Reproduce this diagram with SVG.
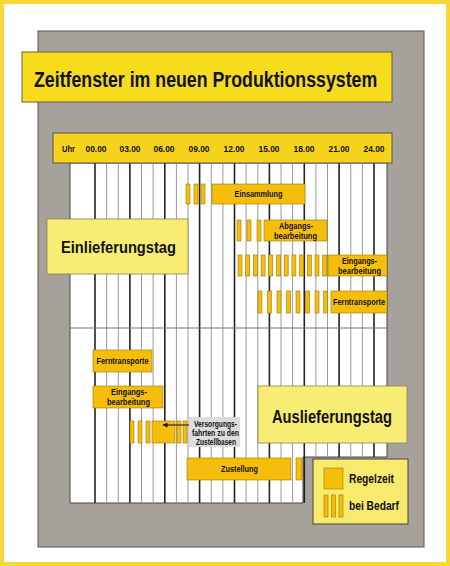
<svg xmlns="http://www.w3.org/2000/svg" width="450" height="566" viewBox="0 0 450 566">
<defs>
<style>
.b{font-family:"Liberation Sans",Arial,sans-serif;font-weight:bold;fill:#111}
.reg{fill:#f5be0c;stroke:#9c7a00;stroke-width:0.6}
.bar{fill:#f5be0c;stroke:#9c7a00;stroke-width:0.6}
.hl{stroke:#999;stroke-width:1}
.hk{stroke:#222;stroke-width:1.6}
.lt{fill:#f8ed74;stroke:#8a8050;stroke-width:0.8}
.s9{font-size:9px}
</style>
<marker id="ah" viewBox="0 0 10 10" refX="9" refY="5" markerWidth="6" markerHeight="5" orient="auto-start-reverse"><path d="M0,0L10,5L0,10z" fill="#111"/></marker>
</defs>
<rect x="2" y="2" width="446" height="562" fill="#fff" stroke="#f8d838" stroke-width="4"/>
<rect x="38" y="31" width="386" height="516" fill="#a7a19c" stroke="#555" stroke-width="1"/>

<g id="title">
<rect x="22" y="52" width="370" height="50" fill="#f7dc1e" stroke="#6a6030" stroke-width="1"/>
<text class="b" transform="translate(34,87) scale(0.807,1)" x="0" y="0" font-size="22">Zeitfenster im neuen Produktionssystem</text>
</g>

<g id="grid">
<path d="M70,163H387V457H303V503H70Z" fill="#fff" stroke="#444" stroke-width="1"/>
<g id="gridlines">
<line class="hl" x1="106.6" y1="163" x2="106.6" y2="503"/>
<line class="hl" x1="118.3" y1="163" x2="118.3" y2="503"/>
<line class="hl" x1="141.5" y1="163" x2="141.5" y2="503"/>
<line class="hl" x1="153.1" y1="163" x2="153.1" y2="503"/>
<line class="hl" x1="176.4" y1="163" x2="176.4" y2="503"/>
<line class="hl" x1="188" y1="163" x2="188" y2="503"/>
<line class="hl" x1="211.3" y1="163" x2="211.3" y2="503"/>
<line class="hl" x1="222.9" y1="163" x2="222.9" y2="503"/>
<line class="hl" x1="246.1" y1="163" x2="246.1" y2="503"/>
<line class="hl" x1="257.8" y1="163" x2="257.8" y2="503"/>
<line class="hl" x1="281" y1="163" x2="281" y2="503"/>
<line class="hl" x1="292.6" y1="163" x2="292.6" y2="503"/>
<line class="hl" x1="315.9" y1="163" x2="315.9" y2="457"/>
<line class="hl" x1="327.5" y1="163" x2="327.5" y2="457"/>
<line class="hl" x1="350.8" y1="163" x2="350.8" y2="457"/>
<line class="hl" x1="362.4" y1="163" x2="362.4" y2="457"/>
<line class="hk" x1="95" y1="163" x2="95" y2="503"/>
<line class="hk" x1="129.9" y1="163" x2="129.9" y2="503"/>
<line class="hk" x1="164.8" y1="163" x2="164.8" y2="503"/>
<line class="hk" x1="199.6" y1="163" x2="199.6" y2="503"/>
<line class="hk" x1="234.5" y1="163" x2="234.5" y2="503"/>
<line class="hk" x1="269.4" y1="163" x2="269.4" y2="503"/>
<line class="hk" x1="304.3" y1="163" x2="304.3" y2="503"/>
<line class="hk" x1="339.1" y1="163" x2="339.1" y2="457"/>
<line class="hk" x1="374" y1="163" x2="374" y2="457"/>
<line x1="70" y1="328" x2="387" y2="328" stroke="#777" stroke-width="1"/>
</g>
</g>

<g id="header">
<rect x="53" y="133" width="339" height="30" fill="#f5d31c" stroke="#555" stroke-width="1"/>
<text class="b" x="62" y="152" font-size="9.5" textLength="13" lengthAdjust="spacingAndGlyphs">Uhr</text>
<g font-size="9.5" text-anchor="middle">
<text class="b" x="96" y="152" textLength="21" lengthAdjust="spacingAndGlyphs">00.00</text>
<text class="b" x="130" y="152" textLength="21" lengthAdjust="spacingAndGlyphs">03.00</text>
<text class="b" x="164" y="152" textLength="21" lengthAdjust="spacingAndGlyphs">06.00</text>
<text class="b" x="199" y="152" textLength="21" lengthAdjust="spacingAndGlyphs">09.00</text>
<text class="b" x="234" y="152" textLength="21" lengthAdjust="spacingAndGlyphs">12.00</text>
<text class="b" x="269" y="152" textLength="21" lengthAdjust="spacingAndGlyphs">15.00</text>
<text class="b" x="304" y="152" textLength="21" lengthAdjust="spacingAndGlyphs">18.00</text>
<text class="b" x="339" y="152" textLength="21" lengthAdjust="spacingAndGlyphs">21.00</text>
<text class="b" x="374" y="152" textLength="21" lengthAdjust="spacingAndGlyphs">24.00</text>
</g>
</g>

<g id="einlieferungstag">
<rect class="lt" x="47" y="219" width="141" height="55" fill="#f8ee7c"/>
<text class="b" x="61" y="253" font-size="17" textLength="115" lengthAdjust="spacingAndGlyphs">Einlieferungstag</text>
</g>

<g id="einsammlung">
<rect class="bar" x="186" y="184" width="4" height="20"/>
<rect class="bar" x="194" y="184" width="4" height="20"/>
<rect class="bar" x="201" y="184" width="4" height="20"/>
<rect class="reg" x="212" y="184" width="93" height="20"/>
<text class="b s9" x="258.5" y="197" text-anchor="middle" textLength="48" lengthAdjust="spacingAndGlyphs">Einsammlung</text>
</g>

<g id="abgangsbearbeitung">
<rect class="bar" x="237" y="220" width="4" height="21"/>
<rect class="bar" x="247" y="220" width="4" height="21"/>
<rect class="bar" x="257" y="220" width="4" height="21"/>
<rect class="reg" x="264" y="220" width="63" height="21"/>
<text class="b s9" x="296" y="229" text-anchor="middle" textLength="34" lengthAdjust="spacingAndGlyphs">Abgangs-</text>
<text class="b s9" x="295.5" y="238.5" text-anchor="middle" textLength="43" lengthAdjust="spacingAndGlyphs">bearbeitung</text>
</g>

<g id="eingangsbearbeitung1">
<rect class="bar" x="238" y="255" width="4" height="21"/>
<rect class="bar" x="245.7" y="255" width="4" height="21"/>
<rect class="bar" x="253.4" y="255" width="4" height="21"/>
<rect class="bar" x="261.1" y="255" width="4" height="21"/>
<rect class="bar" x="268.8" y="255" width="4" height="21"/>
<rect class="bar" x="276.5" y="255" width="4" height="21"/>
<rect class="bar" x="284.2" y="255" width="4" height="21"/>
<rect class="bar" x="291.9" y="255" width="4" height="21"/>
<rect class="bar" x="299.6" y="255" width="4" height="21"/>
<rect class="bar" x="307.3" y="255" width="4" height="21"/>
<rect class="bar" x="315" y="255" width="4" height="21"/>
<rect class="bar" x="322.7" y="255" width="4" height="21"/>
<rect class="reg" x="328" y="255" width="59" height="21"/>
<text class="b s9" x="359.5" y="264" text-anchor="middle" textLength="35" lengthAdjust="spacingAndGlyphs">Eingangs-</text>
<text class="b s9" x="359.5" y="273.5" text-anchor="middle" textLength="43" lengthAdjust="spacingAndGlyphs">bearbeitung</text>
</g>

<g id="ferntransporte1">
<rect class="bar" x="258" y="291" width="4" height="22"/>
<rect class="bar" x="267.5" y="291" width="4" height="22"/>
<rect class="bar" x="277" y="291" width="4" height="22"/>
<rect class="bar" x="286.5" y="291" width="4" height="22"/>
<rect class="bar" x="296" y="291" width="4" height="22"/>
<rect class="bar" x="305.5" y="291" width="4" height="22"/>
<rect class="bar" x="315" y="291" width="4" height="22"/>
<rect class="bar" x="323.5" y="291" width="4" height="22"/>
<rect class="reg" x="331" y="291" width="56" height="22"/>
<text class="b s9" x="359" y="305" text-anchor="middle" textLength="52" lengthAdjust="spacingAndGlyphs">Ferntransporte</text>
</g>

<g id="ferntransporte2">
<rect class="reg" x="93" y="350" width="59" height="22"/>
<text class="b s9" x="122.5" y="364" text-anchor="middle" textLength="52" lengthAdjust="spacingAndGlyphs">Ferntransporte</text>
</g>

<g id="eingangsbearbeitung2">
<rect class="reg" x="93" y="386" width="70" height="22"/>
<text class="b s9" x="129" y="395" text-anchor="middle" textLength="36" lengthAdjust="spacingAndGlyphs">Eingangs-</text>
<text class="b s9" x="128.5" y="404.5" text-anchor="middle" textLength="43" lengthAdjust="spacingAndGlyphs">bearbeitung</text>
</g>

<g id="auslieferungstag">
<rect class="lt" x="258" y="386" width="149" height="57" fill="#f8ef82"/>
<text class="b" x="272" y="423" font-size="18" textLength="120" lengthAdjust="spacingAndGlyphs">Auslieferungstag</text>
</g>

<g id="versorgungsfahrten">
<rect class="bar" x="130" y="421" width="4" height="22"/>
<rect class="bar" x="138" y="421" width="4" height="22"/>
<rect class="bar" x="146" y="421" width="4" height="22"/>
<rect class="reg" x="152" y="421" width="23" height="22"/>
<rect class="bar" x="177" y="421" width="4" height="22"/>
<rect class="bar" x="183" y="421" width="4" height="22"/>
</g>

<g id="versorgungs-label">
<rect x="189" y="417" width="51" height="30" fill="#dcdcdc"/>
<g font-size="8.5" text-anchor="middle">
<text class="b" x="215.5" y="427" textLength="43" lengthAdjust="spacingAndGlyphs">Versorgungs-</text>
<text class="b" x="215.5" y="436" textLength="47" lengthAdjust="spacingAndGlyphs">fahrten zu den</text>
<text class="b" x="216" y="445" textLength="40" lengthAdjust="spacingAndGlyphs">Zustellbasen</text>
</g>
</g>

<g id="zustellung">
<rect class="reg" x="187" y="458" width="104" height="22"/>
<rect class="reg" x="296" y="458" width="6" height="22"/>
<text class="b s9" x="239.5" y="472" text-anchor="middle" textLength="37" lengthAdjust="spacingAndGlyphs">Zustellung</text>
</g>

<g id="connectors">
<line x1="189" y1="425" x2="163" y2="425" stroke="#111" stroke-width="1" marker-end="url(#ah)"/>
</g>

<g id="legend">
<rect x="313" y="459" width="95" height="65" fill="#f7ea6c" stroke="#444" stroke-width="1"/>
<rect class="reg" x="324" y="468" width="19" height="21"/>
<rect class="bar" x="324" y="495" width="4" height="22"/>
<rect class="bar" x="331.5" y="495" width="4" height="22"/>
<rect class="bar" x="339" y="495" width="4" height="22"/>
<text class="b" x="349" y="483" font-size="12" textLength="45" lengthAdjust="spacingAndGlyphs">Regelzeit</text>
<text class="b" x="349" y="510" font-size="12" textLength="50" lengthAdjust="spacingAndGlyphs">bei Bedarf</text>
</g>
</svg>
